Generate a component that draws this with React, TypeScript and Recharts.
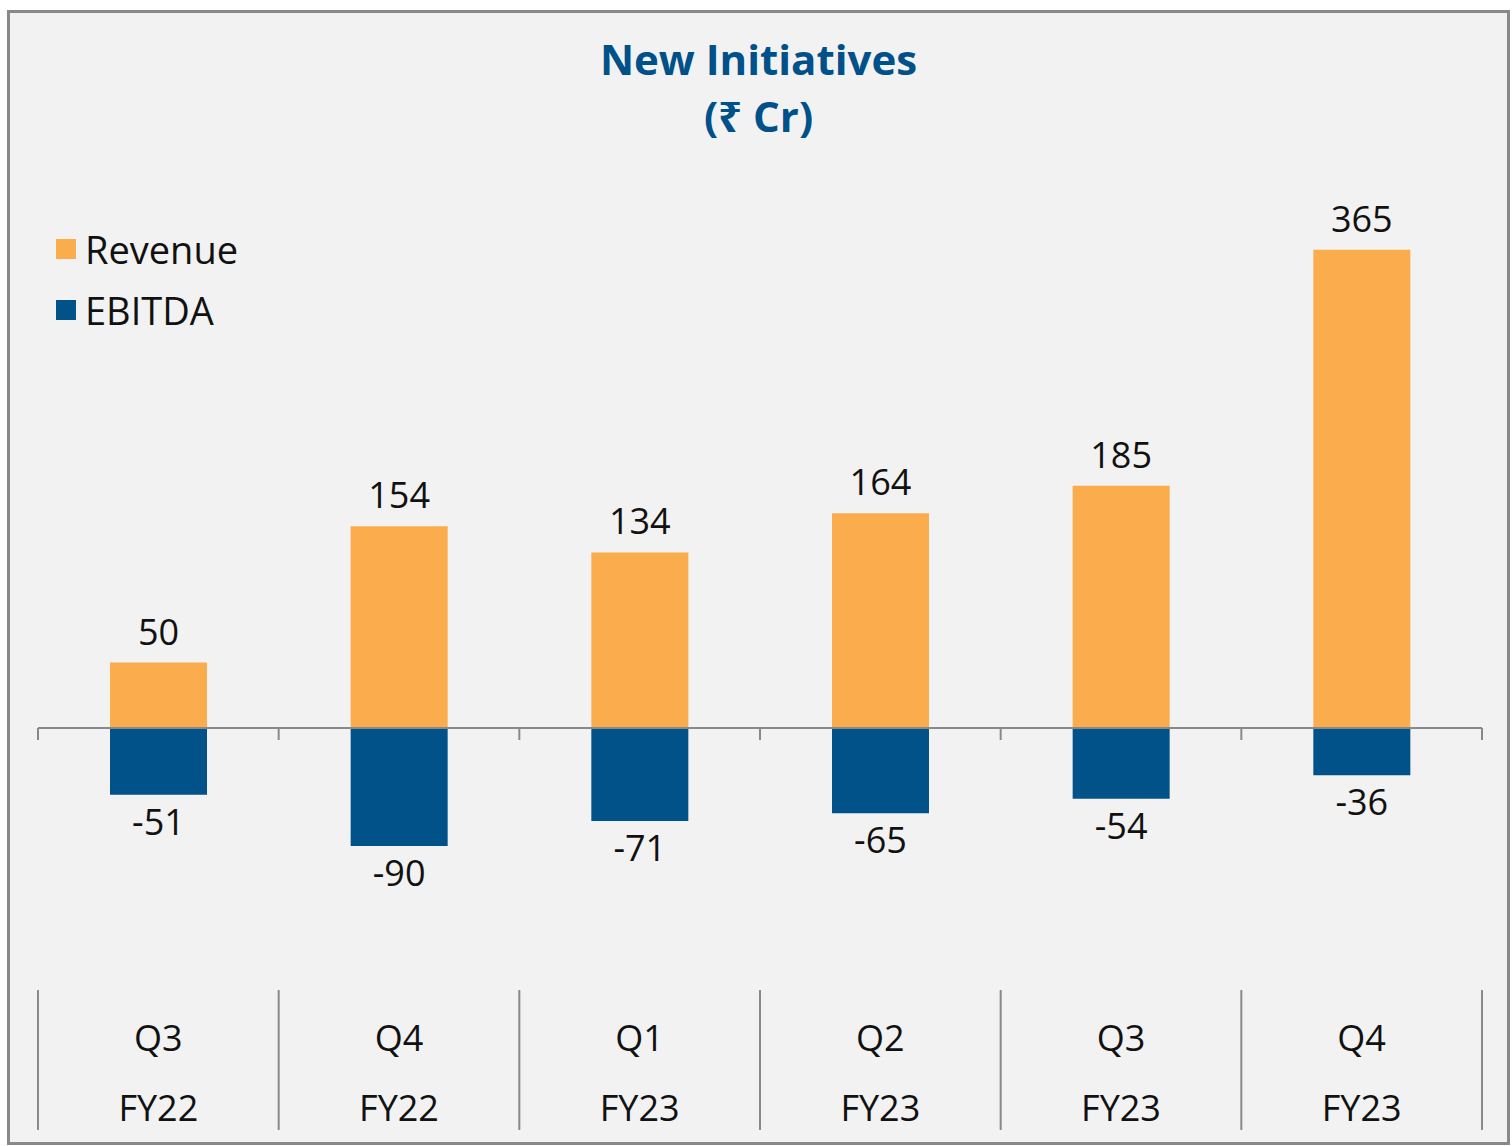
import {
  BarChart,
  Bar,
  XAxis,
  YAxis,
  ReferenceLine,
  LabelList,
  Legend,
} from "recharts";

const periods = ["Q3 FY22", "Q4 FY22", "Q1 FY23", "Q2 FY23", "Q3 FY23", "Q4 FY23"];
const revenue = [50, 154, 134, 164, 185, 365];
const ebitda = [-51, -90, -71, -65, -54, -36];
const seriesOrder = ["Revenue", "EBITDA"];

const data = periods.map((period, i) => ({
  period,
  revenue: revenue[i],
  ebitda: ebitda[i],
}));

const FONT = "'Open Sans', 'Noto Sans', sans-serif";
const GRAY = "#898989";
const ORANGE = "#fbac4c";
const BLUE = "#005288";
const TITLE = "#00508a";

// value labels: above positive bars, below negative ones
function ValueLabel(props: any) {
  const { x, y, width, height, value } = props;
  const top = Math.min(y, y + height);
  const bottom = Math.max(y, y + height);
  const ty = value >= 0 ? top - 18 : bottom + 40;
  return (
    <text x={x + width / 2} y={ty} textAnchor="middle" fontSize={36} fill="#111" fontFamily={FONT}>
      {value}
    </text>
  );
}

// two-line category label with table-like separators
function PeriodTick(props: any) {
  const { x, y, payload, index, visibleTicksCount } = props;
  const half = payload.offset ?? 120;
  const [q, fy] = String(payload.value).split(" ");
  const sep = (sx: number) => (
    <line x1={sx} x2={sx} y1={y} y2={y + 140} stroke={GRAY} strokeWidth={2} />
  );
  return (
    <g>
      {sep(x - half)}
      {index === visibleTicksCount - 1 && sep(x + half)}
      <text x={x} y={y + 61} textAnchor="middle" fontSize={36} fill="#111" fontFamily={FONT}>
        {q}
      </text>
      <text x={x} y={y + 131} textAnchor="middle" fontSize={36} fill="#111" fontFamily={FONT}>
        {fy}
      </text>
    </g>
  );
}

// zero line with tick marks at category boundaries
function ZeroAxis(props: any) {
  const { x1, x2, y1 } = props;
  const step = (x2 - x1) / periods.length;
  return (
    <g>
      <line x1={x1} x2={x2} y1={y1} y2={y1} stroke={GRAY} strokeWidth={2} />
      {Array.from({ length: periods.length + 1 }).map((_, i) => (
        <line
          key={i}
          x1={x1 + i * step}
          x2={x1 + i * step}
          y1={y1}
          y2={y1 + 12}
          stroke={GRAY}
          strokeWidth={2}
        />
      ))}
    </g>
  );
}

function LegendBox(props: any) {
  const items = [...(props.payload || [])].sort(
    (a: any, b: any) => seriesOrder.indexOf(a.value) - seriesOrder.indexOf(b.value)
  );
  return (
    <div style={{ fontFamily: FONT }}>
      {items.map((item: any) => (
        <div key={item.value} style={{ display: "flex", alignItems: "center", height: 61 }}>
          <span style={{ width: 20, height: 20, background: item.color, marginRight: 9 }} />
          <span style={{ fontSize: 38, color: "#111" }}>{item.value}</span>
        </div>
      ))}
    </div>
  );
}

export default function App() {
  return (
    <div
      style={{
        position: "absolute",
        left: 7,
        top: 10,
        width: 1497,
        height: 1129,
        border: `3px solid ${GRAY}`,
        background: "#f2f2f2",
      }}
    >
      <div
        style={{
          position: "absolute",
          top: 17,
          left: 0,
          width: "100%",
          textAlign: "center",
          fontFamily: FONT,
          fontWeight: 700,
          fontSize: 42,
          lineHeight: "57px",
          color: TITLE,
        }}
      >
        New Initiatives
        <br />
        (₹ Cr)
      </div>
      <BarChart
        width={1497}
        height={1129}
        data={data}
        stackOffset="sign"
        margin={{ top: 191, right: 25, left: 28, bottom: 0 }}
      >
        <XAxis
          dataKey="period"
          axisLine={false}
          tickLine={false}
          tickSize={0}
          tickMargin={0}
          interval={0}
          height={152}
          tick={<PeriodTick />}
        />
        <YAxis hide domain={[-200, 400]} />
        <Legend
          layout="vertical"
          align="center"
          verticalAlign="middle"
          content={<LegendBox />}
          wrapperStyle={{ left: 46, top: 205, width: "auto" }}
        />
        <Bar dataKey="revenue" name="Revenue" stackId="a" fill={ORANGE} barSize={97} isAnimationActive={false}>
          <LabelList dataKey="revenue" content={<ValueLabel />} />
        </Bar>
        <Bar dataKey="ebitda" name="EBITDA" stackId="a" fill={BLUE} barSize={97} isAnimationActive={false}>
          <LabelList dataKey="ebitda" content={<ValueLabel />} />
        </Bar>
        <ReferenceLine y={0} shape={<ZeroAxis />} />
      </BarChart>
    </div>
  );
}
